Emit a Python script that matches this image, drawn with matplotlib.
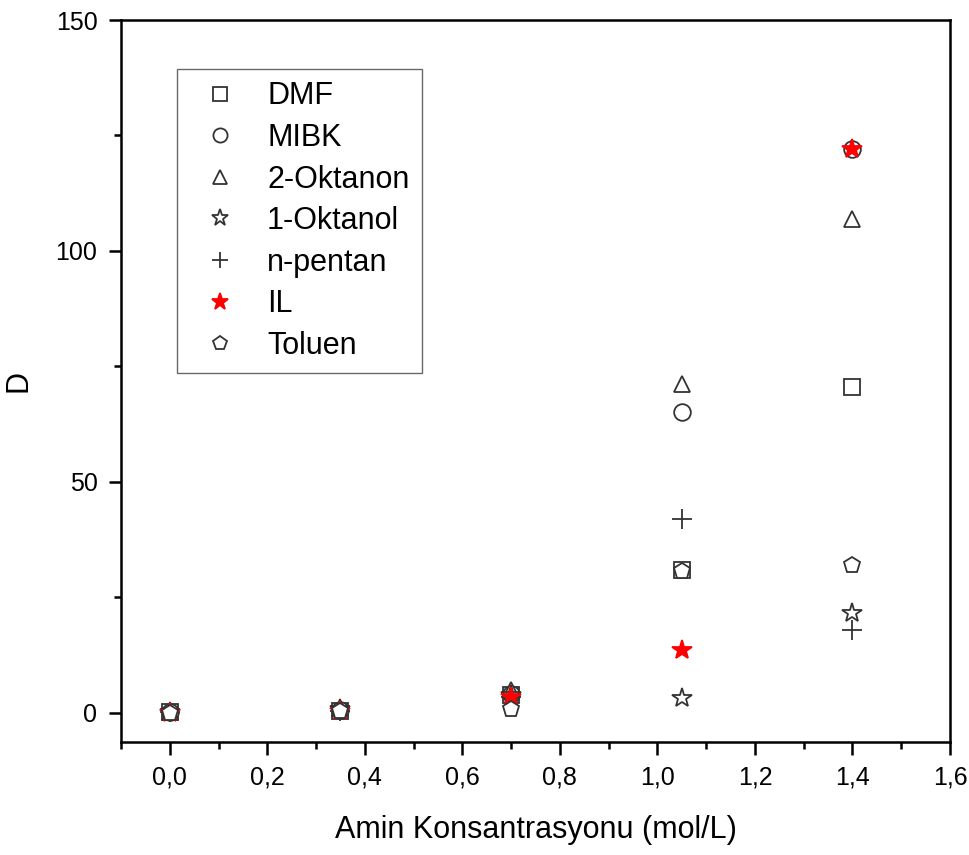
import numpy as np
import matplotlib.pyplot as plt
from matplotlib.ticker import FixedLocator, FuncFormatter, MultipleLocator

plt.rcParams['font.family'] = ['Liberation Sans', 'DejaVu Sans']

# Amine concentration (mol/L)
x = [0.0, 0.35, 0.70, 1.05, 1.40]

# Distribution coefficient D per solvent
dmf = [0.1, 0.5, 3.8, 31.0, 70.6]
mibk = [0.1, 0.6, 4.0, 65.2, 122.0]
oktanon = [0.2, 1.0, 5.0, 71.2, 107.0]
oktanol = [0.1, 0.8, 3.8, 3.3, 21.6]
pentan = [0.1, 0.5, 3.5, 42.0, 18.0]
il = [0.0, 0.3, 3.5, 13.6, 122.0]
toluen = [0.0, 0.3, 0.8, 30.8, 32.0]

series = [
    ('DMF', dmf, 's', 'white', '#333333'),
    ('MIBK', mibk, 'o', 'white', '#333333'),
    ('2-Oktanon', oktanon, '^', 'white', '#333333'),
    ('1-Oktanol', oktanol, '*', 'white', '#333333'),
    ('n-pentan', pentan, '+', 'none', '#333333'),
    ('IL', il, '*', 'red', 'red'),
    ('Toluen', toluen, 'p', 'white', '#333333'),
]

fig = plt.figure(figsize=(9.69, 8.55), dpi=100)
ax = fig.add_axes([0.1249, 0.1322, 0.8555, 0.8444])

for name, vals, m, fc, ec in series:
    size = 15 if m == '*' else 12
    if m == '+':
        size = 14
    ax.plot(x, vals, linestyle='none', marker=m, markersize=size,
            markerfacecolor=fc, markeredgecolor=ec, color=ec,
            markeredgewidth=1.3, label=name)

ax.set_xlim(-0.1, 1.6)
ax.set_ylim(-6.3, 150)
ax.xaxis.set_major_locator(MultipleLocator(0.2))
ax.xaxis.set_minor_locator(MultipleLocator(0.1))
ax.yaxis.set_major_locator(FixedLocator([0, 50, 100, 150]))
ax.yaxis.set_minor_locator(FixedLocator([25, 75, 125]))
ax.xaxis.set_major_formatter(FuncFormatter(lambda v, p: f'{v:.1f}'.replace('.', ',')))
ax.tick_params(axis='both', which='both', direction='out', top=False, right=False,
               width=1.8, labelsize=18)
ax.tick_params(axis='both', which='major', length=9, pad=8)
ax.tick_params(axis='both', which='minor', length=5)
for s in ax.spines.values():
    s.set_linewidth(1.8)

ax.set_xlabel('Amin Konsantrasyonu (mol/L)', fontsize=22, labelpad=18)
ax.set_ylabel('D', fontsize=22, labelpad=16)

leg = ax.legend(loc='upper left', bbox_to_anchor=(0.0675, 0.932), borderaxespad=0,
                fontsize=22, frameon=True, fancybox=False, edgecolor='#444444',
                borderpad=0.4, labelspacing=0.38, handlelength=2.0,
                handletextpad=0.55, markerscale=0.85)
leg.get_frame().set_linewidth(1.0)

fig.savefig('out.png', dpi=100)
